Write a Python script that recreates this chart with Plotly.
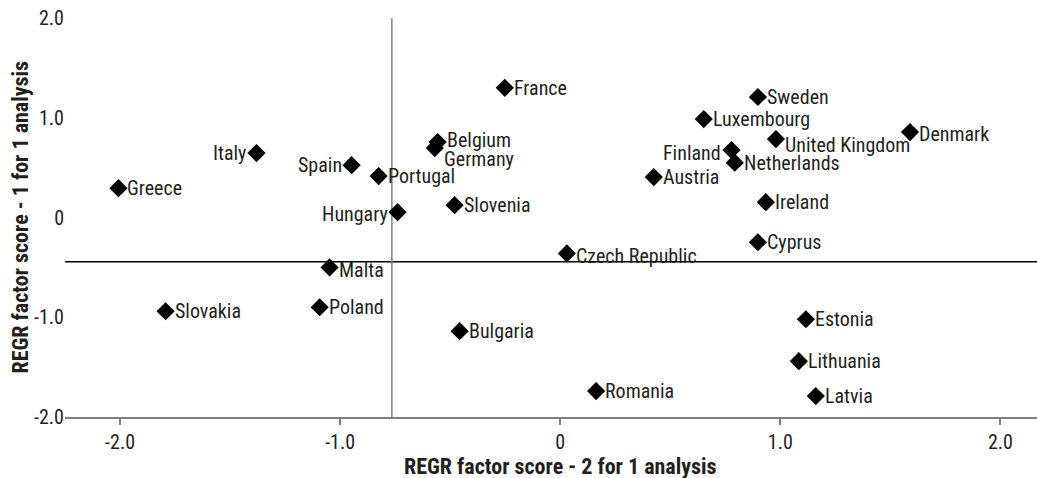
import plotly.graph_objects as go

countries = ["Greece", "Italy", "Spain", "Portugal", "Hungary", "Belgium", "Germany", "France",
             "Slovenia", "Malta", "Poland", "Slovakia", "Bulgaria", "Czech Republic", "Romania",
             "Austria", "Luxembourg", "Sweden", "Finland", "Netherlands", "United Kingdom",
             "Denmark", "Ireland", "Cyprus", "Estonia", "Lithuania", "Latvia"]
score2 = [-2.007, -1.380, -0.948, -0.825, -0.739, -0.557, -0.570, -0.252,
          -0.480, -1.048, -1.093, -1.793, -0.457, 0.030, 0.163,
          0.425, 0.652, 0.898, 0.778, 0.793, 0.980,
          1.589, 0.934, 0.898, 1.116, 1.084, 1.161]
score1 = [0.294, 0.646, 0.525, 0.415, 0.053, 0.756, 0.696, 1.300,
          0.124, -0.500, -0.900, -0.940, -1.140, -0.360, -1.740,
          0.405, 0.987, 1.208, 0.676, 0.550, 0.786,
          0.856, 0.154, -0.248, -1.020, -1.440, -1.790]

x_ticks = [-2, -1, 0, 1, 2]
x_ticktext = ["-2.0", "-1.0", "0", "1.0", "2.0"]
y_ticks = [-2, -1, 0, 1, 2]
y_ticktext = ["-2.0", "-1.0", "0", "1.0", "2.0"]
v_line_x = -0.765
h_line_y = -0.443
x_title = "REGR factor score - 2 for 1 analysis"
y_title = "REGR factor score - 1 for 1 analysis"

# label placement: side and vertical pixel offset (positive = lower)
left_labels = {"Italy", "Spain", "Hungary", "Finland"}
label_dy = {"Germany": 11, "United Kingdom": 6, "Czech Republic": 3, "Belgium": -2,
            "Malta": 3, "Finland": 3, "Hungary": 2, "Denmark": 2}

FONT = "Roboto Condensed, Liberation Sans Narrow, Roboto, sans-serif"
TXT = "#231f20"
FS = 20

fig = go.Figure()
fig.add_trace(go.Scatter(
    x=score2, y=score1, mode="markers", text=countries,
    marker=dict(symbol="diamond", size=14, color="#000000"),
    cliponaxis=False, hoverinfo="text"))

for c, xv, yv in zip(countries, score2, score1):
    left = c in left_labels
    fig.add_annotation(x=xv, y=yv, xref="x", yref="y", text=c, showarrow=False,
                       xanchor="right" if left else "left", yanchor="middle",
                       xshift=-8 if left else 7, yshift=-label_dy.get(c, 0),
                       font=dict(family=FONT, size=FS, color=TXT))

fig.add_shape(type="line", xref="x", yref="y", x0=v_line_x, x1=v_line_x, y0=-2, y1=2,
              line=dict(color="#808080", width=1.5), layer="below")
fig.add_shape(type="line", xref="paper", yref="y", x0=0, x1=1, y0=h_line_y, y1=h_line_y,
              line=dict(color="#000000", width=1.5), layer="below")

fig.add_annotation(x=0, xref="x", y=0, yref="paper", yanchor="middle", yshift=-49,
                   text="<b>" + x_title + "</b>", showarrow=False,
                   font=dict(family=FONT, size=22, color=TXT))
fig.add_annotation(x=0, xref="paper", y=0.5, yref="paper", xanchor="center", xshift=-45,
                   textangle=-90, text="<b>" + y_title + "</b>", showarrow=False,
                   font=dict(family=FONT, size=22, color=TXT))

fig.update_layout(
    width=1037, height=478, margin=dict(l=65, r=0, t=18, b=61, autoexpand=False),
    paper_bgcolor="white", plot_bgcolor="white", showlegend=False,
    font=dict(family=FONT, size=FS, color=TXT),
    xaxis=dict(range=[-2.25, 2.166], tickvals=x_ticks, ticktext=x_ticktext,
               showgrid=False, zeroline=False, showline=True, linecolor="#808080", linewidth=1.5,
               ticks="outside", ticklen=6, tickcolor="#808080", tickwidth=1.5,
               tickfont=dict(family=FONT, size=FS, color=TXT), automargin=False),
    yaxis=dict(range=[-2, 2], tickvals=y_ticks, ticktext=y_ticktext,
               showgrid=False, zeroline=False, showline=False, ticks="",
               tickfont=dict(family=FONT, size=FS, color=TXT), automargin=False),
)

fig.write_html("out.html", config={"displayModeBar": False},
               post_script="document.body.style.margin='0px';")
